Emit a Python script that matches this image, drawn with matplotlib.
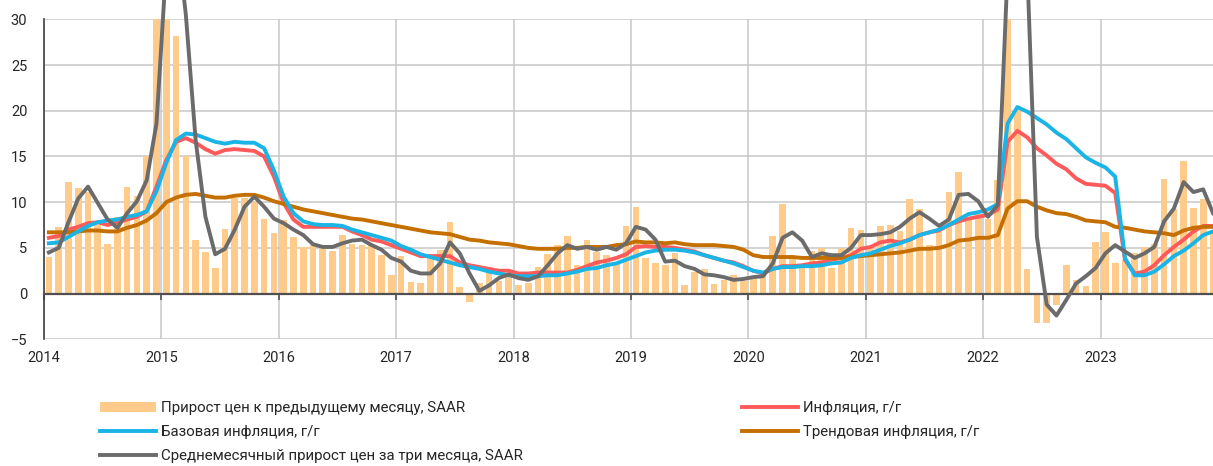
import numpy as np
import matplotlib
matplotlib.use('Agg')
import matplotlib.pyplot as plt

plt.rcParams['font.family'] = ['Roboto', 'DejaVu Sans']

years = ['2014', '2015', '2016', '2017', '2018', '2019', '2020', '2021', '2022', '2023']

# monthly, Jan 2014 .. Dec 2023
mom_saar = [
    4.0, 7.3, 12.2, 11.5, 11.1, 7.5, 5.4, 8.4, 11.7, 10.7, 15.0, 31.0,
    48.0, 28.2, 15.0, 5.9, 4.5, 2.8, 7.1, 10.5, 10.5, 10.0, 8.2, 6.6,
    8.1, 6.2, 5.1, 5.3, 5.1, 4.7, 6.4, 5.4, 5.3, 5.3, 4.2, 2.0,
    4.1, 1.3, 1.2, 3.9, 4.8, 7.8, 0.7, -0.9, 1.2, 2.2, 1.4, 2.0,
    0.9, 1.2, 2.9, 4.3, 5.3, 6.3, 3.1, 5.9, 4.5, 4.2, 3.3, 7.4,
    9.5, 3.9, 3.3, 3.1, 4.4, 0.9, 2.4, 2.7, 1.1, 1.5, 2.0, 1.4,
    1.7, 2.0, 6.3, 9.8, 3.9, 3.0, 4.7, 5.0, 2.8, 5.0, 7.2, 7.0,
    5.1, 7.4, 7.5, 6.8, 10.4, 9.2, 5.3, 6.7, 11.1, 13.3, 8.3, 8.7,
    8.2, 12.4, 85.0, 20.1, 2.7, -3.2, -3.2, -1.2, 3.1, 1.5, 0.8, 5.6,
    6.7, 3.4, 3.7, 4.4, 5.1, 5.4, 12.5, 9.2, 14.5, 9.4, 10.3, 6.7,
]

cpi_yoy = [
    6.1, 6.3, 7.0, 7.3, 7.7, 7.8, 7.5, 7.8, 8.1, 8.4, 9.0, 11.7,
    14.6, 16.6, 17.0, 16.5, 15.8, 15.3, 15.7, 15.8, 15.7, 15.6, 15.0, 12.8,
    9.9, 8.1, 7.3, 7.3, 7.3, 7.3, 7.3, 6.8, 6.4, 5.9, 5.7, 5.3,
    4.9, 4.5, 4.1, 4.1, 4.1, 4.1, 3.4, 3.1, 2.9, 2.7, 2.5, 2.5,
    2.2, 2.2, 2.3, 2.3, 2.3, 2.3, 2.6, 3.0, 3.4, 3.6, 3.9, 4.3,
    5.1, 5.2, 5.1, 5.1, 5.0, 4.8, 4.6, 4.2, 3.9, 3.6, 3.4, 3.0,
    2.5, 2.2, 2.7, 3.0, 3.0, 3.1, 3.3, 3.4, 3.7, 3.9, 4.2, 4.9,
    5.1, 5.6, 5.8, 5.6, 5.9, 6.4, 6.7, 6.9, 7.5, 7.9, 8.2, 8.4,
    8.6, 9.2, 16.6, 17.8, 17.1, 15.9, 15.1, 14.2, 13.6, 12.6, 12.0, 11.9,
    11.8, 11.0, 3.7, 2.2, 2.4, 3.1, 4.2, 5.1, 5.9, 6.8, 7.4, 7.4,
]

core_yoy = [
    5.5, 5.6, 6.2, 6.8, 7.4, 7.8, 8.0, 8.1, 8.4, 8.6, 9.0, 11.2,
    14.3, 16.8, 17.5, 17.4, 17.0, 16.6, 16.4, 16.6, 16.5, 16.5, 15.9, 13.5,
    10.6, 8.8, 7.9, 7.6, 7.5, 7.5, 7.4, 7.0, 6.7, 6.4, 6.1, 5.8,
    5.2, 4.8, 4.3, 4.0, 3.7, 3.4, 3.1, 2.9, 2.7, 2.4, 2.2, 2.0,
    1.9, 1.9, 1.9, 2.0, 2.0, 2.2, 2.4, 2.7, 2.8, 3.1, 3.3, 3.7,
    4.1, 4.5, 4.7, 4.8, 4.8, 4.7, 4.5, 4.2, 3.9, 3.6, 3.3, 2.9,
    2.5, 2.3, 2.7, 2.9, 2.9, 3.0, 3.0, 3.1, 3.3, 3.4, 3.9, 4.2,
    4.4, 4.8, 5.2, 5.5, 5.9, 6.4, 6.7, 7.0, 7.5, 8.1, 8.7, 8.9,
    9.2, 9.8, 18.6, 20.4, 19.9, 19.2, 18.5, 17.6, 16.9, 15.9, 14.9, 14.3,
    13.8, 12.8, 3.9, 2.0, 2.0, 2.4, 3.2, 4.1, 4.7, 5.5, 6.4, 6.8,
]

trend_yoy = [
    6.7, 6.7, 6.7, 6.8, 6.9, 6.9, 6.8, 6.8, 7.2, 7.5, 8.0, 8.8,
    10.0, 10.5, 10.8, 10.9, 10.7, 10.5, 10.5, 10.7, 10.8, 10.8, 10.5, 10.1,
    9.8, 9.5, 9.2, 9.0, 8.8, 8.6, 8.4, 8.2, 8.1, 7.9, 7.7, 7.5,
    7.3, 7.1, 6.9, 6.7, 6.6, 6.5, 6.2, 5.9, 5.8, 5.6, 5.5, 5.4,
    5.2, 5.0, 4.9, 4.9, 4.9, 5.0, 5.0, 5.1, 5.1, 5.1, 5.3, 5.4,
    5.7, 5.6, 5.6, 5.5, 5.6, 5.4, 5.3, 5.3, 5.3, 5.2, 5.1, 4.8,
    4.2, 4.0, 4.0, 4.0, 4.0, 3.9, 3.9, 3.9, 3.9, 3.9, 4.0, 4.1,
    4.2, 4.3, 4.4, 4.5, 4.7, 4.9, 4.9, 5.0, 5.3, 5.8, 5.9, 6.1,
    6.1, 6.4, 9.3, 10.1, 10.1, 9.5, 9.1, 8.8, 8.7, 8.4, 8.0, 7.9,
    7.8, 7.3, 7.2, 7.0, 6.8, 6.7, 6.6, 6.4, 6.9, 7.2, 7.3, 7.3,
]

avg3m_saar = [
    4.5, 5.0, 7.8, 10.4, 11.7, 9.9, 8.1, 7.2, 8.8, 10.1, 12.4, 18.6,
    36.0, 40.0, 30.5, 16.8, 8.4, 4.3, 4.9, 7.0, 9.5, 10.6, 9.5, 8.2,
    7.7, 7.0, 6.4, 5.4, 5.1, 5.1, 5.5, 5.8, 5.9, 5.3, 4.8, 3.9,
    3.5, 2.5, 2.2, 2.2, 3.3, 5.6, 4.4, 2.2, 0.3, 0.9, 1.7, 2.1,
    1.7, 1.5, 1.9, 3.1, 4.4, 5.3, 4.9, 5.1, 4.8, 5.1, 4.8, 5.5,
    7.3, 7.0, 5.9, 3.5, 3.6, 3.0, 2.7, 2.1, 2.0, 1.8, 1.5, 1.6,
    1.8, 1.9, 3.3, 6.1, 6.7, 5.8, 4.0, 4.4, 4.2, 4.2, 5.0, 6.4,
    6.4, 6.5, 6.7, 7.3, 8.2, 8.9, 8.2, 7.4, 8.1, 10.8, 10.9, 10.1,
    8.4, 9.7, 35.3, 39.2, 35.9, 6.2, -1.2, -2.4, -0.7, 1.1, 1.9, 2.8,
    4.4, 5.3, 4.6, 3.9, 4.4, 5.1, 7.9, 9.3, 12.2, 11.1, 11.4, 8.8,
]

labels = ['Прирост цен к предыдущему месяцу, SAAR',
          'Базовая инфляция, г/г',
          'Среднемесячный прирост цен за три месяца, SAAR',
          'Инфляция, г/г',
          'Трендовая инфляция, г/г']

x = np.arange(len(mom_saar))
year_pos = np.arange(0, len(mom_saar), 12) - 0.5

fig = plt.figure(figsize=(12.13, 4.66), dpi=100)
ax = fig.add_axes([44 / 1213, 1 - 339.3 / 466, 1 - 44 / 1213, 320 / 466])

hb = ax.bar(x, mom_saar, width=0.68, color='#FFCB8A', zorder=2)
hr, = ax.plot(x, cpi_yoy, color='#FF5A5A', lw=2.8, zorder=3)
ht, = ax.plot(x, trend_yoy, color='#C46F00', lw=2.8, zorder=3)
hc, = ax.plot(x, core_yoy, color='#1BB4E6', lw=2.8, zorder=4)
hg, = ax.plot(x, avg3m_saar, color='#6B6B6B', lw=2.8, zorder=5, clip_on=False)

ax.set_ylim(-5, 30)
ax.set_yticks(range(-5, 31, 5))
ax.set_xlim(-0.5, 119.0)
ax.set_xticks(year_pos)
ax.set_xticklabels(years)
ax.grid(True, color='#C8C8C8', lw=1.1)
ax.set_axisbelow(True)

for s in ['top', 'right']:
    ax.spines[s].set_visible(False)
ax.spines['left'].set_color('#404040')
ax.spines['left'].set_linewidth(1.2)
ax.spines['bottom'].set_position(('data', 0))
ax.spines['bottom'].set_color('#505050')
ax.spines['bottom'].set_linewidth(1.6)
ax.spines['bottom'].set_zorder(2.5)

ax.tick_params(axis='x', direction='out', length=4, width=1.2, color='#505050',
               pad=37, labelsize=10.5, labelcolor='#262626')
ax.tick_params(axis='y', length=0, pad=12, labelsize=10.5, labelcolor='#262626')

kw = dict(loc='upper left', frameon=False, handlelength=3.7, handletextpad=0.35,
          labelspacing=0.68, borderpad=0, borderaxespad=0, fontsize=10.8,
          labelcolor='#262626')
fig.legend([hb, hc, hg], labels[:3], bbox_to_anchor=(100 / 1213, 1 - 401 / 466), **kw)
fig.legend([hr, ht], labels[3:], bbox_to_anchor=(742 / 1213, 1 - 401 / 466), **kw)

fig.savefig('out.png', dpi=100)
